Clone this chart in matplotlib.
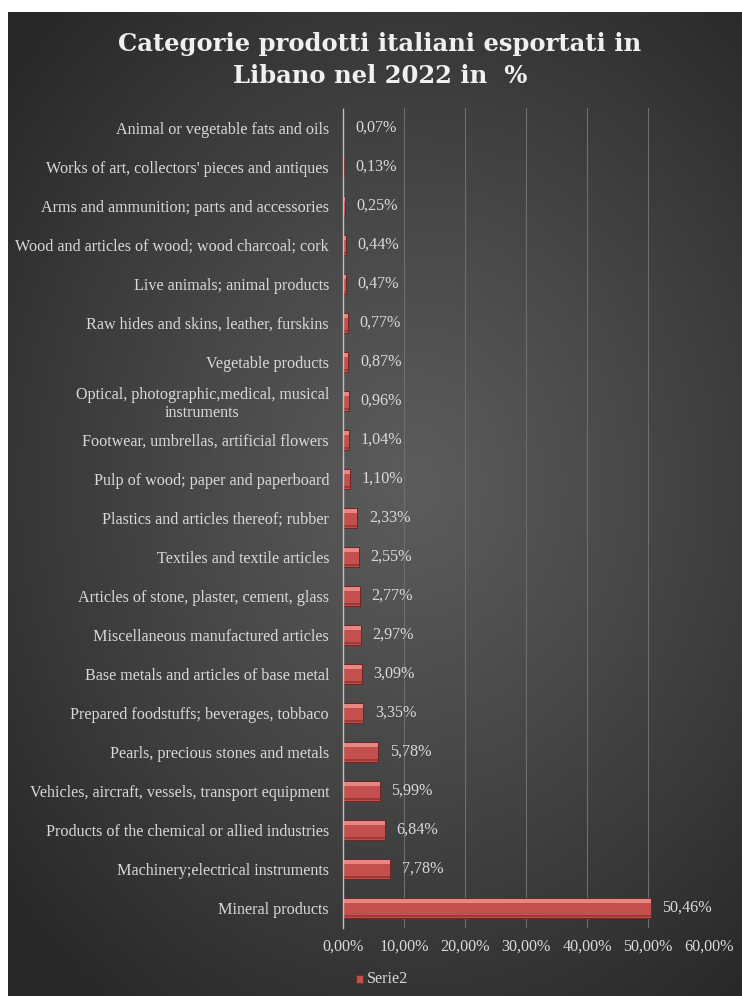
import matplotlib
matplotlib.use("Agg")
import matplotlib.pyplot as plt
import numpy as np
from matplotlib.patches import Rectangle

categories = [
    "Animal or vegetable fats and oils",
    "Works of art, collectors' pieces and antiques",
    "Arms and ammunition; parts and accessories",
    "Wood and articles of wood; wood charcoal; cork",
    "Live animals; animal products",
    "Raw hides and skins, leather, furskins",
    "Vegetable products",
    "Optical, photographic,medical, musical\ninstruments",
    "Footwear, umbrellas, artificial flowers",
    "Pulp of wood; paper and paperboard",
    "Plastics and articles thereof; rubber",
    "Textiles and textile articles",
    "Articles of stone, plaster, cement, glass",
    "Miscellaneous manufactured articles",
    "Base metals and articles of base metal",
    "Prepared foodstuffs; beverages, tobbaco",
    "Pearls, precious stones and metals",
    "Vehicles, aircraft, vessels, transport equipment",
    "Products of the chemical or allied industries",
    "Machinery;electrical instruments",
    "Mineral products",
]
values = [0.07, 0.13, 0.25, 0.44, 0.47, 0.77, 0.87, 0.96, 1.04, 1.10,
          2.33, 2.55, 2.77, 2.97, 3.09, 3.35, 5.78, 5.99, 6.84, 7.78, 50.46]
xticks = [0, 10, 20, 30, 40, 50, 60]
series_name = "Serie2"
title = "Categorie prodotti italiani esportati in\nLibano nel 2022 in  %"

W, H = 742, 996
fig = plt.figure(figsize=(W / 100, H / 100), dpi=100, facecolor="white")

# background radial gradient
bg = fig.add_axes([8 / W, 0, (W - 8) / W, (H - 12) / H])
bg.set_axis_off()
ny, nx = 400, 300
yy, xx = np.mgrid[0:ny, 0:nx]
cx, cy = nx * 0.55, ny * 0.48
r = np.sqrt(((xx - cx) / nx) ** 2 + ((yy - cy) / ny * 1.1) ** 2)
r = np.clip(r / 0.72, 0, 1)
inner, outer = 0x5c / 255, 0x28 / 255
g = inner + (outer - inner) * r ** 1.1
img = np.dstack([g, g, g])
bg.imshow(img, aspect="auto", extent=[0, 1, 0, 1], origin="upper")
bg.set_xlim(0, 1)
bg.set_ylim(0, 1)

ax = fig.add_axes([343 / W, 1 - 927.5 / H, (709 - 343) / W, (927.5 - 108.5) / H])
ax.set_facecolor("none")
n = len(categories)
ypos = np.arange(n)[::-1]

txtc = "#d9d9d9"
serif = ["Liberation Serif", "DejaVu Serif"]
fs = 11.6

bh = 0.5
ax.barh(ypos, values, height=bh, color="#c4504d", edgecolor="#6e2422", linewidth=0.7, zorder=3)
# bevel highlights (top light edge, bottom dark edge)
ax.barh(ypos + bh * 0.36, values, height=bh * 0.2, color="#e88683", linewidth=0, zorder=4)
ax.barh(ypos - bh * 0.40, values, height=bh * 0.12, color="#9c3a38", linewidth=0, zorder=4)

for y, v in zip(ypos, values):
    ax.text(v + 1.9, y, f"{v:.2f}%".replace(".", ","), va="center", ha="left",
            color=txtc, fontsize=fs, family=serif)

ax.set_xlim(0, 60)
ax.set_ylim(-0.5, n - 0.5)
ax.set_yticks(ypos)
ax.set_yticklabels(categories, family=serif, fontsize=fs, color=txtc,
                   multialignment="center")
ax.tick_params(axis="y", length=0, pad=10)
ax.set_xticks(xticks)
ax.set_xticklabels([f"{t:.2f}%".replace(".", ",") for t in xticks], family=serif,
                   fontsize=fs, color=txtc)
ax.tick_params(axis="x", length=0, pad=8)
ax.grid(axis="x", color="#6e6e6e", linewidth=0.8, zorder=0)
for s in ["top", "right", "bottom"]:
    ax.spines[s].set_visible(False)
ax.spines["left"].set_color("#bfbfbf")
ax.spines["left"].set_linewidth(1.0)
ax.spines["left"].set_zorder(5)

fig.text(380 / W, 1 - 60 / H, title, ha="center", va="center", color="#f0f0f0",
         fontsize=17.5, fontweight="bold", family=["DejaVu Serif"], linespacing=1.4)

# legend
fig.patches.append(Rectangle((356 / W, 1 - 983 / H), 7 / W, 8 / H, transform=fig.transFigure,
                             facecolor="#c4504d", edgecolor="#6e2422", linewidth=0.5))
fig.text(367 / W, 1 - 979 / H, series_name, ha="left", va="center", color=txtc,
         fontsize=fs, family=serif)

fig.savefig("out.png", dpi=100, facecolor="white")
